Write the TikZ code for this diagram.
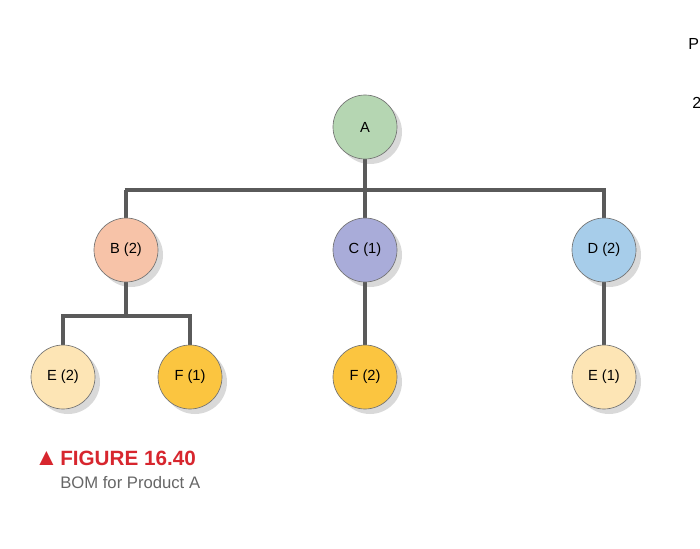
\documentclass[tikz,border=0pt]{standalone}
\usepackage{fontspec}
\setmainfont{Liberation Sans}
\definecolor{cA}{HTML}{B5D6B2}
\definecolor{cB}{HTML}{F7C3A8}
\definecolor{cC}{HTML}{A9ACD9}
\definecolor{cD}{HTML}{A7CDEA}
\definecolor{cE}{HTML}{FDE5B5}
\definecolor{cF}{HTML}{FBC540}
\definecolor{lineg}{HTML}{5A5A5A}
\definecolor{figred}{HTML}{D7262E}
\begin{document}
\begin{tikzpicture}[x=0.75pt,y=-0.75pt,
  part/.style={circle,draw=black!55,line width=0.5pt,minimum size=48pt,inner sep=0pt,
    font=\fontsize{11}{13}\selectfont,
    path picture={}},
  conn/.style={lineg,line width=2.6pt}]
\useasboundingbox (0,0) rectangle (700,549);
% shadows
\foreach \x/\y in {365/127,126/250,365/250,604/250,63/377,190/377,365/377,604/377}
  \fill[black!15] (\x+5,\y+5) circle (32);
% connectors
\coordinate (hA) at (365,190);
\coordinate (hL) at (126,190);
\coordinate (hR) at (604,190);
\coordinate (hB) at (126,316);
\coordinate (hBL) at (63,316);
\coordinate (hBR) at (190,316);
\draw[conn] (365,127) -- (hA);
\draw[conn] (hL|-hA) ++(-1.3,0) -- ([xshift=1.3]hR) ;
\draw[conn] (hL) -- (126,250);
\draw[conn] (hA) -- (365,377);
\draw[conn] (hR) -- (604,377);
\draw[conn] (126,250) -- (hB);
\draw[conn] ([xshift=-1.3]hBL) -- ([xshift=1.3]hBR);
\draw[conn] (hBL) -- (63,377);
\draw[conn] (hBR) -- (190,377);
% nodes
\node[part,fill=cA] (A) at (365,127) {A};
\node[part,fill=cB] (B) at (126,250) {B (2)};
\node[part,fill=cC] (C) at (365,250) {C (1)};
\node[part,fill=cD] (D) at (604,250) {D (2)};
\node[part,fill=cE] (E2) at (63,377) {E (2)};
\node[part,fill=cF] (F1) at (190,377) {F (1)};
\node[part,fill=cF] (F2) at (365,377) {F (2)};
\node[part,fill=cE] (E1) at (604,377) {E (1)};
% caption
\node[anchor=west,figred,font=\fontsize{18}{20}\selectfont] (tri) at (30,458) {▲};
\node[anchor=west,figred,font=\bfseries\fontsize{15.5}{18}\selectfont,inner sep=0pt] (fig) at (60,458) {FIGURE 16.40};
\node[anchor=west,black!60,font=\fontsize{12.5}{15}\selectfont,inner sep=0pt] (cap) at (60,483) {BOM for Product A};
\node[anchor=west,font=\fontsize{12}{14}\selectfont,inner sep=0pt] (p) at (688,44) {P};
\node[anchor=west,font=\fontsize{12}{14}\selectfont,inner sep=0pt] (two) at (692,103) {2};
\end{tikzpicture}
\end{document}
